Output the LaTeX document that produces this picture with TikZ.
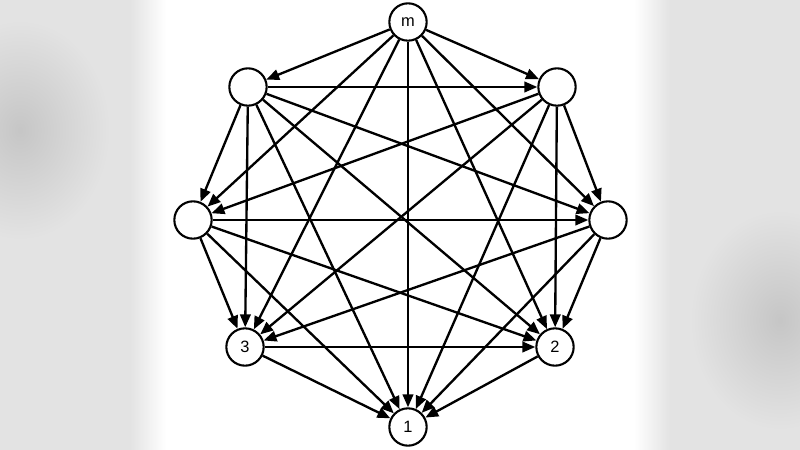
\documentclass[tikz,border=0pt]{standalone}
\usepackage{fontspec}
\setmainfont{Liberation Sans}
\usetikzlibrary{arrows.meta}
\begin{document}
\begin{tikzpicture}[x=0.03cm,y=-0.03cm,
  vtx/.style={circle,draw,line width=1.8pt,fill=white,minimum size=1.12cm,inner sep=0pt,font=\fontsize{14}{14}\selectfont},
  arc/.style={line width=2pt,-{Triangle[length=11pt,width=9pt]}}]
\useasboundingbox (0,0) rectangle (800,450);
\fill[gray!22] (0,0) rectangle (800,450);
\shade[inner color=gray!45,outer color=gray!22] (20,130) ellipse (90 and 110);
\shade[inner color=gray!45,outer color=gray!22] (780,320) ellipse (90 and 110);
\shade[left color=gray!22,right color=white] (130,0) rectangle (166,450);
\shade[left color=white,right color=gray!22] (634,0) rectangle (670,450);
\fill[white] (166,0) rectangle (634,450);
\node[vtx] (m) at (408,22) {m};
\node[vtx] (a) at (248,87) {};
\node[vtx] (b) at (557,87) {};
\node[vtx] (c) at (193,220) {};
\node[vtx] (d) at (608,220) {};
\node[vtx] (n3) at (245,347) {3};
\node[vtx] (n2) at (555,347) {2};
\node[vtx] (n1) at (408,427) {1};
\foreach \s/\t in {m/a,m/b,m/c,m/d,m/n3,m/n2,m/n1,
  a/b,a/c,a/d,a/n3,a/n2,a/n1,
  b/c,b/d,b/n3,b/n2,b/n1,
  c/d,c/n3,c/n2,c/n1,
  d/n3,d/n2,d/n1,
  n3/n2,n3/n1,n2/n1}
  \draw[arc] (\s) -- (\t);
\end{tikzpicture}
\end{document}
